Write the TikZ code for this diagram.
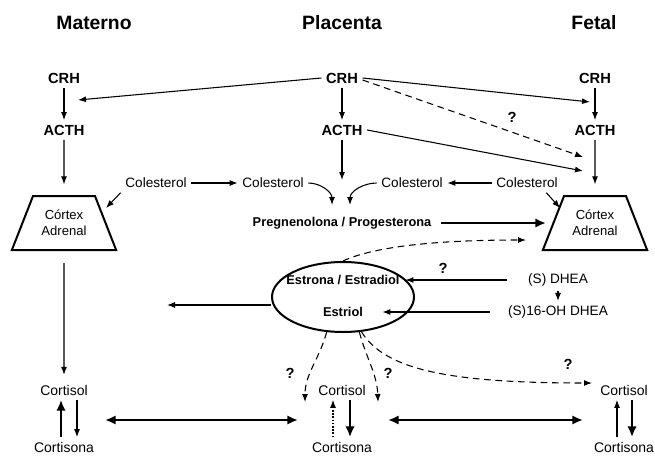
\documentclass[tikz,border=0pt]{standalone}
\usepackage{fontspec}
\setmainfont{Liberation Sans}
\usetikzlibrary{arrows.meta,shapes.geometric}

\begin{document}
\begin{tikzpicture}[x=0.75pt,y=-0.75pt,
    titulo/.style ={font=\bfseries\fontsize{14.5}{17}\selectfont},
    hormona/.style ={font=\bfseries\fontsize{11}{13}\selectfont},
    texto/.style ={font=\fontsize{10.2}{12}\selectfont},
    cortisol/.style ={font=\fontsize{10.5}{12}\selectfont},
    negrita/.style ={font=\bfseries\fontsize{9.6}{12}\selectfont},
    pregunta/.style ={font=\bfseries\fontsize{11}{13}\selectfont},
    corteza/.style ={trapezium, draw, line width=1.5pt, trapezium angle=62,
        trapezium stretches=true, minimum width=78.75pt, minimum height=40.5pt,
        align=center, font=\fontsize{9.8}{12}\selectfont},
    flecha/.style ={-{Latex[length=6pt,width=4.5pt]}, line width=0.8pt},
    gruesa/.style ={-{Latex[length=8pt,width=7pt]}, line width=2.2pt},
    doble/.style ={{Latex[length=8pt,width=7pt]}-{Latex[length=8pt,width=7pt]}, line width=2.2pt},
    discontinua/.style ={flecha, dash pattern=on 5pt off 3.5pt},
    punteada/.style ={flecha, dash pattern=on 1.2pt off 1.2pt}]
   \useasboundingbox (0,0) rectangle (655,456);
   \node[titulo] (tM) at (94,23) {Materno};
   \node[titulo] (tP) at (342,23) {Placenta};
   \node[titulo] (tF) at (594,23) {Fetal};
   \node[hormona] (crhM) at (64,78) {CRH};
   \node[hormona] (crhP) at (342,78) {CRH};
   \node[hormona] (crhF) at (595,78) {CRH};
   \node[hormona] (acthM) at (64,130) {ACTH};
   \node[hormona] (acthP) at (342,130) {ACTH};
   \node[hormona] (acthF) at (595,130) {ACTH};
   \node[texto] (col1) at (156,183) {Colesterol};
   \node[texto] (col2) at (273,183) {Colesterol};
   \node[texto] (col3) at (412,183) {Colesterol};
   \node[texto] (col4) at (527,183) {Colesterol};
   \node[corteza] (adrM) at (64,223) {Córtex\\Adrenal};
   \node[corteza] (adrF) at (595,223) {Córtex\\Adrenal};
   \node[negrita] (preg) at (342,223) {Pregnenolona / Progesterona};
   \node[ellipse, draw, line width=1.5pt, minimum width=106.5pt,
         minimum height=52.5pt, inner sep=0pt] (ell) at (343,297) {};
   \node[negrita] (estr) at (343,280) {Estrona / Estradiol};
   \node[negrita] (estriol) at (343,312) {Estriol};
   \node[texto] (dhea) at (558,280) {(S) DHEA};
   \node[texto] (oh) at (558,312) {(S)16-OH DHEA};
   \node[cortisol] (cortM) at (64,390) {Cortisol};
   \node[cortisol] (cortonaM) at (64,447) {Cortisona};
   \node[cortisol] (cortP) at (342,390) {Cortisol};
   \node[cortisol] (cortonaP) at (342,447) {Cortisona};
   \node[cortisol] (cortF) at (624,390) {Cortisol};
   \node[cortisol] (cortonaF) at (624,447) {Cortisona};
   \node[pregunta] (q1) at (512,117) {?};
   \node[pregunta] (q2) at (443,268) {?};
   \node[pregunta] (q3) at (290,373) {?};
   \node[pregunta] (q4) at (388,373) {?};
   \node[pregunta] (q5) at (568,364) {?};
   \coordinate (cM) at (78,100);
   \coordinate (cF1) at (590,102);
   \coordinate (cF2) at (583,157);
   \coordinate (cF3) at (583,171);
   \coordinate (pP) at (342,180);
   \coordinate (pA) at (332,205);
   \coordinate (pB) at (350,205);
   \coordinate (aM) at (106,208);
   \coordinate (aF) at (560,208);
   \coordinate (pF) at (546,223);
   \coordinate (pD) at (526,240);
   \coordinate (cL) at (167,305);
   \coordinate (qA) at (305,402);
   \coordinate (qB) at (378,402);
   \coordinate (qC) at (592,383);
   \coordinate (d1) at (105,420);
   \coordinate (d2) at (298,420);
   \coordinate (d3) at (388,420);
   \coordinate (d4) at (583,420);
   \draw[flecha] (crhM) to (acthM);
   \draw[flecha] (crhP) to (acthP);
   \draw[flecha] (crhF) to (acthF);
   \draw[flecha] (crhP.west) to (cM);
   \draw[flecha] (crhP.east) to (cF1);
   \draw[discontinua] ([yshift=-1.5pt]crhP.east) to (cF2);
   \draw[flecha] (acthP.east) to (cF3);
   \draw[flecha, shorten >=8pt] (acthM) to (adrM);
   \draw[flecha, shorten >=8pt] (acthF) to (adrF);
   \draw[flecha] (acthP) to (pP);
   \draw[flecha] (col1) to (col2);
   \draw[flecha] (col4) to (col3);
   \draw[flecha] (col1.south west) to (aM);
   \draw[flecha] ([xshift=-12pt]col4.south east) to (aF);
   \draw[flecha] (col2.east) to[out=0,in=90] (pA);
   \draw[flecha] (col3.west) to[out=180,in=90] (pB);
   \draw[gruesa, shorten <=4pt] (preg.east) to (pF);
   \draw[discontinua] (ell.north) .. controls (375,246) and (440,240) .. (pD);
   \draw[flecha] ([xshift=-12pt]dhea.west) to (dhea.west -| ell.16);
   \draw[flecha] (dhea) to (oh);
   \draw[flecha] ([xshift=-10pt]oh.west) to ([xshift=11pt]estriol.east);
   \draw[flecha] (ell.west |- cL) to (cL);
   \draw[flecha, shorten <=9pt, shorten >=4pt] (adrM) to (cortM);
   \draw[discontinua] (ell.245) to[out=-105,in=90] (qA);
   \draw[discontinua] (ell.295) to[out=-75,in=92] (qB);
   \draw[discontinua] (ell.298) .. controls (385,370) and (450,383) .. (qC);
   \draw[gruesa] ([xshift=-2.25pt]cortonaM.north) to ([xshift=-2.25pt]cortM.south);
   \draw[flecha] ([xshift=9.75pt]cortM.south) to ([xshift=9.75pt]cortonaM.north);
   \draw[punteada] ([xshift=-6.75pt]cortonaP.north) to ([xshift=-6.75pt]cortP.south);
   \draw[gruesa] ([xshift=6pt]cortP.south) to ([xshift=6pt]cortonaP.north);
   \draw[flecha] ([xshift=-5.25pt]cortonaF.north) to ([xshift=-5.25pt]cortF.south);
   \draw[gruesa] ([xshift=6pt]cortF.south) to ([xshift=6pt]cortonaF.north);
   \draw[doble] (d1) to (d2);
   \draw[doble] (d3) to (d4);
 \end{tikzpicture}
\end{document}
